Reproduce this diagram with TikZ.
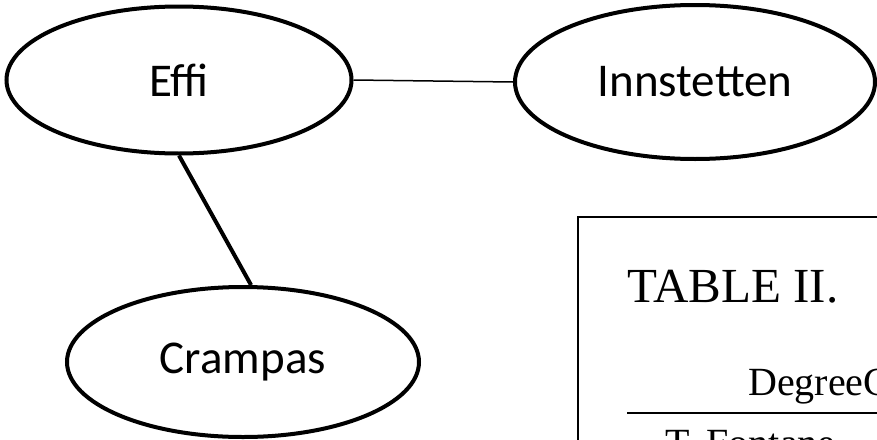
\documentclass[tikz,border=0pt]{standalone}
\usepackage{fontspec}
\setmainfont{Carlito}
\newfontfamily\tablefont{Liberation Serif}
\usetikzlibrary{shapes.geometric}
\tikzset{
	person/.style={ellipse, draw=black, line width=4pt, inner sep=0pt, font=\fontsize{47}{56}\selectfont},
	tabtext/.style={anchor=base west, inner sep=0pt, font=\tablefont\fontsize{40}{48}\selectfont}
}
\begin{document}
\begin{tikzpicture}[x=1pt,y=-1pt]
				\useasboundingbox (0,0) rectangle (877,439);
				\clip (0,0) rectangle (877,439);
				\fill [white] (0,0) rectangle (877,439);
				\node [person, minimum width=345pt, minimum height=147pt] (effi) at (179,80) {Effi};
				\node [person, minimum width=360pt, minimum height=154pt] (innstetten) at (695,82) {Innstetten};
				\node [person, minimum width=352pt, minimum height=150pt] (crampas) at (243,362) {Crampas};
				\draw [line width=1.5pt] (effi.east) -- (innstetten.west);
				\draw [line width=4pt] (effi.south) -- (crampas.84);
				\draw [line width=2pt] (578,460) -- (578,217) -- (900,217);
				\node [tabtext, font=\tablefont\fontsize{49}{58}\selectfont] (caption) at (627,302) {TABLE II.};
				\node [tabtext] (header) at (748,395) {DegreeC};
				\coordinate (ruleleft) at (627,413);
				\coordinate (ruleright) at (900,413);
				\draw [line width=2pt] (ruleleft) -- (ruleright);
				\node [tabtext] (firstrow) at (665,456) {T. Fontane};
\end{tikzpicture}
\end{document}
